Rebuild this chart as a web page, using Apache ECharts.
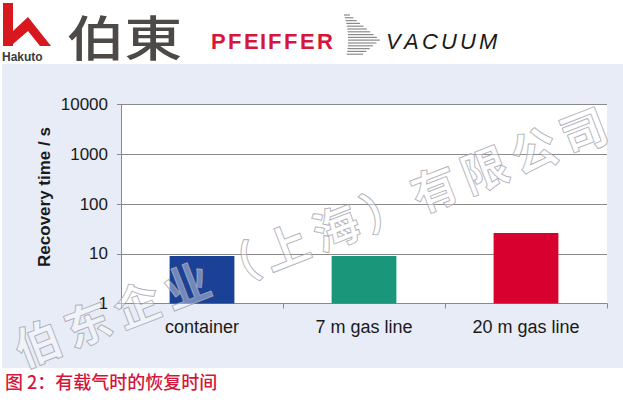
<!DOCTYPE html>
<html>
<head>
<meta charset="utf-8">
<script src="https://cdn.jsdelivr.net/npm/echarts@6/dist/echarts.min.js"></script>
<style>
html,body{margin:0;padding:0;background:#fff;}
#chart{width:623px;height:409px;}
</style>
</head>
<body>
<div id="chart"></div>
<script>
var categories = ['container', '7 m gas line', '20 m gas line'];
var recoveryTimes = [9, 9, 26];
var barColors = ['#1b4196', '#1a967a', '#d8002f'];
var yTickLabels = ['1', '10', '100', '1000', '10000'];
var yAxisTitle = 'Recovery time / s';
var caption = '图 2：有载气时的恢复时间';
var watermarkChars = ['伯','东','企','业','（','上','海','）','有','限','公','司'];

var chart = echarts.init(document.getElementById('chart'), null, {renderer: 'svg'});

var graphics = [];
// panel background
graphics.push({type:'rect', z:-10, shape:{x:2, y:64, width:621, height:304}, style:{fill:'#e8ecf6'}});
// Hakuto logo
graphics.push({type:'rect', shape:{x:3, y:3, width:10, height:43}, style:{fill:'#d7181f'}});
graphics.push({type:'polygon', shape:{points:[[13,31],[28,17],[51,46],[40,46],[28,31],[13,44]]}, style:{fill:'#d7181f'}});
graphics.push({type:'text', x:2, y:57, style:{text:'Hakuto', font:'bold 12px "Liberation Sans", Arial, sans-serif', fill:'#3a3a3a', verticalAlign:'middle'}});
graphics.push({type:'text', x:67, y:35, scaleX:1.2, style:{text:'伯東', font:'500 48px "Noto Sans CJK JP", sans-serif', fill:'#4d4947', verticalAlign:'middle'}});
// PFEIFFER
var pf = 'PFEIFFER'.split('');
var pfx = [211, 228, 244, 260, 268, 284, 300, 317];
pf.forEach(function(c, i){
  graphics.push({type:'text', x:pfx[i], y:41, style:{text:c, font:'bold 22px "Liberation Sans", Arial, sans-serif', fill:'#d6163c', verticalAlign:'middle'}});
});
// swoosh
for (var k = 0; k < 15; k++) {
  var yy = 15 + k * 2.8;
  var d = Math.abs(yy - 40) / 25;
  var x0 = 344 + (1 - d * d) * 4;
  var x1 = 380 - d * 30;
  graphics.push({type:'line', shape:{x1:x0, y1:yy, x2:x1, y2:yy}, style:{stroke:'#777', lineWidth:1.2, opacity:0.85}});
}
var vac = 'VACUUM'.split('');
var vx = [386, 404, 422, 441, 460, 479];
vac.forEach(function(c, i){
  graphics.push({type:'text', x:vx[i], y:41, style:{text:c, font:'italic 22px "Liberation Sans", Arial, sans-serif', fill:'#1a1a1a', verticalAlign:'middle'}});
});
// y axis title
graphics.push({type:'text', x:44, y:197, rotation:Math.PI/2, style:{text:yAxisTitle, font:'bold 17px "Liberation Sans", Arial, sans-serif', fill:'#1a1a1a', align:'center', verticalAlign:'middle'}});
// caption
graphics.push({type:'text', x:5, y:381, style:{text:caption, font:'500 18px "Noto Sans CJK SC", sans-serif', fill:'#d4163c', verticalAlign:'middle'}});
// watermark
var ang = 21.2 * Math.PI / 180;
watermarkChars.forEach(function(c, i){
  graphics.push({type:'text', z:100, x:37 + i * 49.6, y:341 - i * 19.3, rotation:ang,
    style:{text:c, font:'bold 46px "Noto Sans CJK SC", sans-serif', fill:'rgba(255,255,255,0.4)', stroke:'rgba(140,140,150,0.8)', lineWidth:1, align:'center', verticalAlign:'middle'}});
});

chart.setOption({
  animation: false,
  backgroundColor: '#ffffff',
  grid: {left:121, right:16, top:104.5, bottom:105.5, show:true, backgroundColor:'#ffffff', borderWidth:0},
  xAxis: {
    type: 'category',
    data: categories,
    axisLine: {show:true, lineStyle:{color:'#8a8a8a', width:1}},
    axisTick: {show:true, length:5, lineStyle:{color:'#8a8a8a'}},
    axisLabel: {color:'#1a1a1a', fontSize:18, fontFamily:'"Liberation Sans", Arial, sans-serif', margin:14}
  },
  yAxis: {
    type: 'log',
    logBase: 10,
    min: 1,
    max: 10000,
    axisLine: {show:true, lineStyle:{color:'#8a8a8a', width:1}},
    axisTick: {show:true, length:4, lineStyle:{color:'#8a8a8a'}},
    splitLine: {show:true, lineStyle:{color:'#8a8a8a', width:1}},
    axisLabel: {color:'#1a1a1a', fontSize:17, fontFamily:'"Liberation Sans", Arial, sans-serif', margin:13,
      formatter: function(v){ var idx = Math.round(Math.log10(v)); return yTickLabels[idx] !== undefined ? yTickLabels[idx] : ''; }}
  },
  series: [{
    type: 'bar',
    barWidth: '40%',
    data: recoveryTimes.map(function(v, i){ return {value:v, itemStyle:{color:barColors[i]}}; })
  }],
  graphic: graphics
});
</script>
</body>
</html>
